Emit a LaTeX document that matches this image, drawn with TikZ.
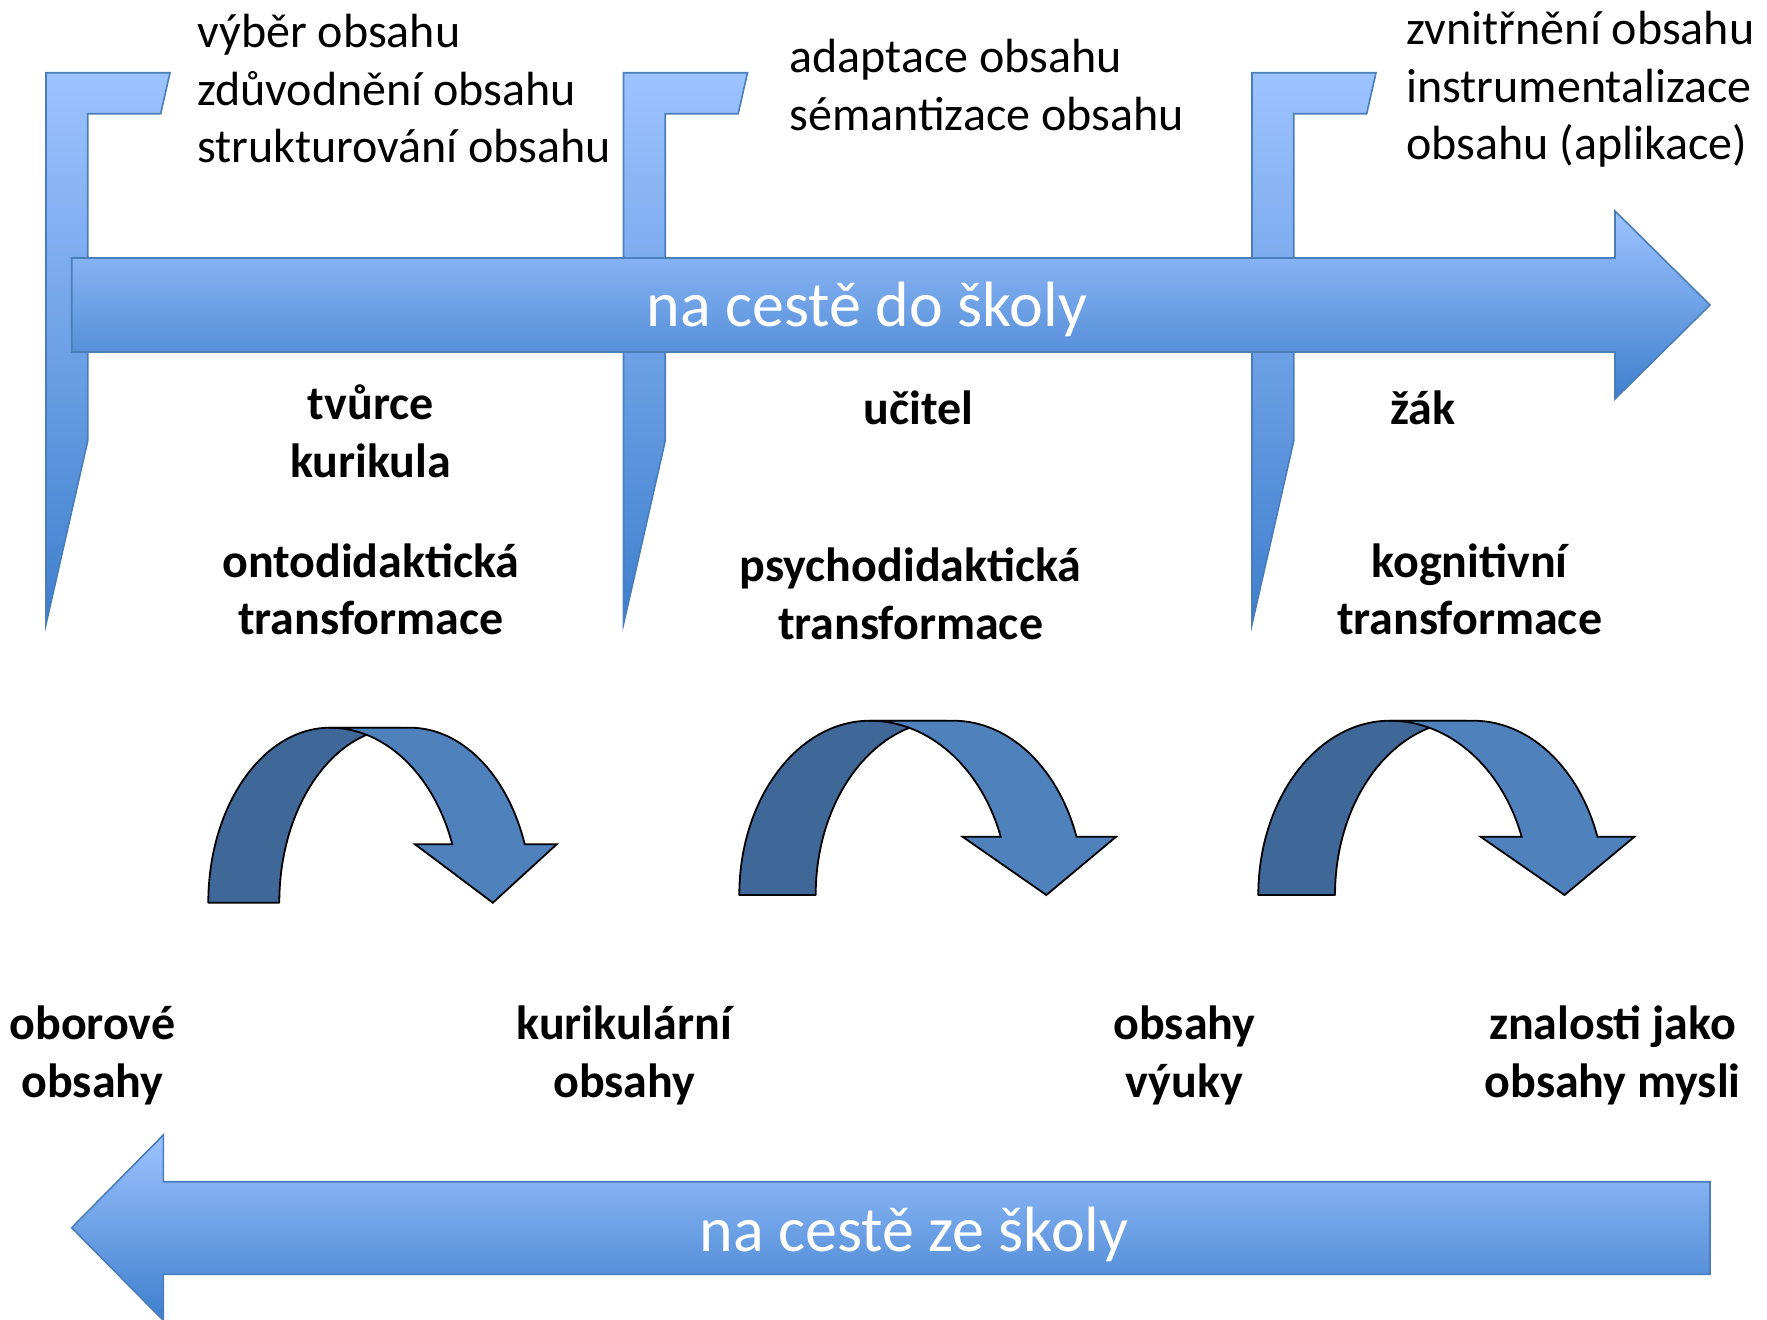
\documentclass[tikz,border=0pt]{standalone}
\usepackage{fontspec}
\setmainfont{Carlito}
\usetikzlibrary{calc}

\definecolor{gradtop}{HTML}{9DC3FF}
\definecolor{gradbot}{HTML}{3F7FCD}
\definecolor{edgeblue}{HTML}{4A7EBB}
\definecolor{backblue}{HTML}{3F6797}
\definecolor{frontblue}{HTML}{4F81BD}

\tikzset{
  blueshape/.style={top color=gradtop, bottom color=gradbot, draw=edgeblue, line width=0.8pt, line join=miter},
  backband/.style={fill=backblue, draw=black, line width=0.9pt, line join=round},
  frontband/.style={fill=frontblue, draw=black, line width=0.9pt, line join=miter},
  plaintxt/.style={font=\fontsize{24}{28.8}\selectfont, inner sep=0pt, anchor=base west, yshift=-1.25pt},
  boldtxt/.style={font=\fontsize{24}{28.8}\selectfont\bfseries, inner sep=0pt, anchor=base, yshift=-1.25pt},
  roadtxt/.style={font=\fontsize{32}{38}\selectfont, text=white, inner sep=0pt, anchor=base, yshift=-1.75pt}
}

% U-turn arrow: back band rising from the foot, front band falling into the head.
% #1 centre x of the back rim, #2 foot line, #3/#4 radii, #5 back width,
% #6 front width, #7/#8 left and right wing ends of the head
\newcommand{\uturnarrow}[8]{%
  \filldraw[backband] (#1-#3,#2)
    arc[start angle=180, end angle=270, x radius=#3, y radius=#4]
    -- ++(#5,0)
    arc[start angle=270, end angle=180, x radius=#3, y radius=#4]
    -- cycle;
  \filldraw[frontband] (#1,#2-#4) -- ++(#6,0)
    arc[start angle=270, end angle=340.5, x radius=#3, y radius=#4]
    -- (#8,{#2-0.33381*#4})
    -- ({(#7+#8)/2+7},#2)
    -- (#7,{#2-0.33381*#4})
    -- ({#1+0.94264*(#3+8)},{#2-0.33381*#4})
    arc[start angle=340.5, end angle=270, x radius=#3+8, y radius=#4]
    -- cycle;
}

% signpost flag standing at x = #1
\newcommand{\signflag}[1]{%
  \filldraw[blueshape] (#1,72.7) -- (#1+124,72.7) -- (#1+114.7,113.7)
    -- (#1+41.7,113.7) -- (#1+41.7,441) -- (#1,624.3) -- cycle;
}

\begin{document}
\begin{tikzpicture}[x=0.5pt, y=-0.5pt]
  \useasboundingbox (0,0) rectangle (1767,1319);

  % three signposts
  \signflag{46}
  \signflag{623.5}
  \signflag{1252}

  % road to school
  \filldraw[blueshape] (71.7,258) -- (1615,258) -- (1615,211) -- (1710,305)
    -- (1615,399) -- (1615,352) -- (71.7,352) -- cycle;
  \node[roadtxt] (toschool) at (867,323) {na cestě do školy};

  % road from school
  \filldraw[blueshape] (1710,1181.7) -- (163.3,1181.7) -- (163.3,1135) -- (71.7,1227.7)
    -- (163.3,1320.4) -- (163.3,1274.3) -- (1710,1274.3) -- cycle;
  \node[roadtxt] (fromschool) at (914,1248) {na cestě ze školy};

  % transformations
  \uturnarrow{330}{902.7}{121.7}{175}{71}{80}{415}{556.7}
  \uturnarrow{870}{895}{130.7}{174.3}{76.4}{83.3}{962.7}{1116}
  \uturnarrow{1390}{895}{131.7}{174.3}{76.7}{83.3}{1480.7}{1634.3}

  % activities above the road
  \node[plaintxt] (sel)    at (197,45)    {výběr obsahu};
  \node[plaintxt] (just)   at (197,102.5) {zdůvodnění obsahu};
  \node[plaintxt] (struc)  at (197,160)   {strukturování obsahu};
  \node[plaintxt] (adapt)  at (789,70)    {adaptace obsahu};
  \node[plaintxt] (sem)    at (789,127.5) {sémantizace obsahu};
  \node[plaintxt] (intern) at (1406,42)   {zvnitřnění obsahu};
  \node[plaintxt] (instr)  at (1406,99.5) {instrumentalizace};
  \node[plaintxt] (appl)   at (1406,157)  {obsahu (aplikace)};

  % actors
  \node[boldtxt] (auth1) at (370.8,417)   {tvůrce};
  \node[boldtxt] (auth2) at (370.8,474.5) {kurikula};
  \node[boldtxt] (teach) at (918.5,421.5) {učitel};
  \node[boldtxt] (pupil) at (1423,421.5)  {žák};

  % transformation names
  \node[boldtxt] (onto1)  at (370.8,575)   {ontodidaktická};
  \node[boldtxt] (onto2)  at (370.8,632)   {transformace};
  \node[boldtxt] (psych1) at (910.6,579)   {psychodidaktická};
  \node[boldtxt] (psych2) at (910.6,636.5) {transformace};
  \node[boldtxt] (cogn1)  at (1469.6,575)  {kognitivní};
  \node[boldtxt] (cogn2)  at (1469.6,632)  {transformace};

  % kinds of content
  \node[boldtxt] (field1) at (92.4,1037)    {oborové};
  \node[boldtxt] (field2) at (92.4,1094.5)  {obsahy};
  \node[boldtxt] (curr1)  at (624.3,1037)   {kurikulární};
  \node[boldtxt] (curr2)  at (624.3,1094.5) {obsahy};
  \node[boldtxt] (instr1) at (1184.4,1037)  {obsahy};
  \node[boldtxt] (instr2) at (1184.4,1094.5){výuky};
  \node[boldtxt] (know1)  at (1612.6,1037)  {znalosti jako};
  \node[boldtxt] (know2)  at (1612.6,1094.5){obsahy mysli};
\end{tikzpicture}
\end{document}
